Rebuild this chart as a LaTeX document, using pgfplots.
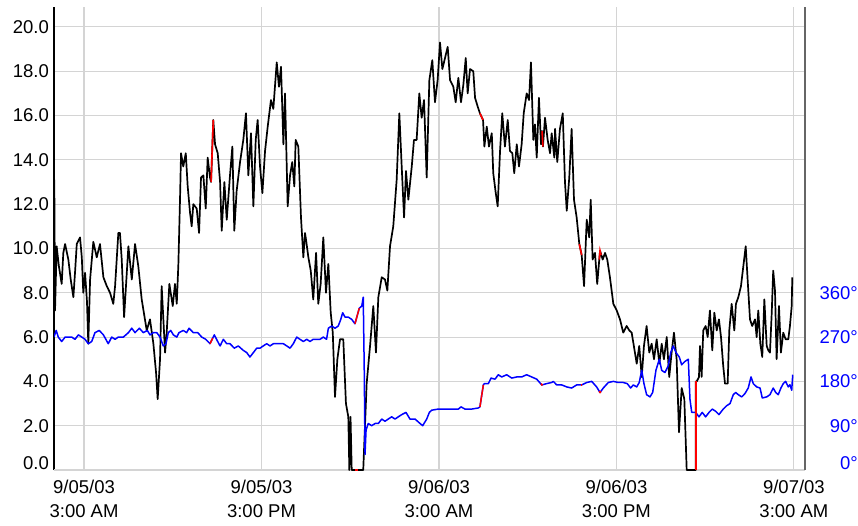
\documentclass[border=0pt]{standalone}
\usepackage{pgfplots}
\pgfplotsset{compat=1.18}
\usepackage{fontspec}
\setmainfont{Liberation Sans}
\begin{document}
\begin{tikzpicture}
\useasboundingbox (-54pt,-55pt) rectangle (804pt,470pt);
\begin{axis}[
  at={(0,0)}, anchor=south west,
  scale only axis, width=751pt, height=463pt,
  xmin=0.97, xmax=51.75, ymin=0, ymax=20.9,
  axis x line*=bottom, axis y line*=left,
  axis line style={-, line width=1.7pt, black},
  major tick length=0pt,
  xtick={3,15,27,39,51},
  xticklabels={{9/05/03\\3:00 AM},{9/05/03\\3:00 PM},{9/06/03\\3:00 AM},{9/06/03\\3:00 PM},{9/07/03\\3:00 AM}},
  xticklabel style={align=center, font=\fontsize{18.5}{24}\selectfont, inner sep=0pt, yshift=-10pt},
  ytick={2,4,6,8,10,12,14,16,18,20},
  yticklabels={2.0,4.0,6.0,8.0,10.0,12.0,14.0,16.0,18.0,20.0},
  yticklabel style={font=\fontsize{18.5}{22}\selectfont, inner sep=0pt, xshift=-5pt},
  extra y ticks={0}, extra y tick labels={0.0},
  extra y tick style={yticklabel style={yshift=7pt}},
  grid=major, major grid style={black!17, line width=1.1pt},
]
% black series
\addplot[black, line width=1.7pt, line join=round] coordinates {
(0.97,6.7)(0.99,13.1)(1.04,7.2)(1.15,10.1)(1.30,9.2)(1.49,8.4)(1.60,9.8)(1.72,10.2)(1.94,9.5)(2.10,8.6)
(2.28,7.8)(2.40,9.0)(2.51,10.2)(2.73,10.5)(2.85,9.6)(2.95,8.0)(3.07,8.9)(3.20,7.6)(3.29,5.7)(3.41,8.6)
(3.63,10.3)(3.86,9.6)(4.08,10.2)(4.31,8.7)(4.54,8.3)(4.76,8.0)(4.98,7.5)(5.10,8.3)(5.32,10.7)(5.43,10.7)
(5.55,9.5)(5.71,6.9)(6.00,10.1)(6.23,8.6)(6.45,10.2)(6.67,9.2)(6.90,7.7)(7.24,6.3)(7.46,6.8)(7.69,5.7)
(7.87,4.4)(7.98,3.2)(8.14,5.0)(8.25,8.3)(8.48,5.3)(8.59,6.2)(8.77,8.4)(9.00,7.4)(9.15,8.4)(9.27,7.5)
(9.38,9.3)(9.49,12.2)(9.56,14.3)(9.71,13.7)(9.88,14.3)(10.01,12.8)(10.17,11.6)(10.28,11.0)(10.39,12.0)(10.62,11.8)
(10.78,10.7)(10.91,13.2)(11.07,13.3)(11.23,11.8)(11.36,14.1)(11.52,13.2)(11.59,13.0)(11.74,15.8)(11.86,14.7)(12.04,14.3)
(12.20,13.0)(12.31,10.8)(12.49,13.0)(12.65,11.3)(12.87,13.3)(13.03,14.6)(13.16,10.8)(13.32,12.6)(13.55,13.9)(13.77,14.9)
(13.95,16.1)(14.11,13.3)(14.29,15.2)(14.45,11.9)(14.61,14.9)(14.74,15.8)(14.90,13.7)(15.06,12.5)(15.24,14.4)(15.42,15.5)
(15.64,16.7)(15.80,16.3)(16.03,18.4)(16.18,17.3)(16.32,18.2)(16.48,14.7)(16.59,17.0)(16.77,11.9)(16.93,13.3)(17.08,13.9)
(17.22,12.8)(17.31,14.9)(17.49,14.6)(17.67,11.4)(17.83,9.6)(17.94,10.7)(18.01,10.4)(18.17,9.6)(18.33,9.0)(18.50,7.7)
(18.69,9.8)(18.84,7.5)(19.00,8.4)(19.18,10.5)(19.36,8.0)(19.52,9.3)(19.68,7.1)(19.82,6.2)(19.97,3.3)(20.13,5.0)
(20.31,5.9)(20.53,5.9)(20.71,3.0)(20.87,2.4)(20.94,0)(21.02,2.4)(21.10,0)(21.88,0)(22.11,3.9)(22.34,5.6)
(22.56,7.4)(22.74,5.3)(22.90,7.8)(23.13,8.7)(23.35,8.6)(23.51,8.1)(23.69,10.1)(23.91,11.0)(24.14,13.1)(24.32,16.1)
(24.48,13.7)(24.64,11.4)(24.77,13.5)(24.93,12.2)(25.16,13.7)(25.31,14.9)(25.49,14.9)(25.67,17.0)(25.83,15.9)(25.99,16.7)
(26.17,13.2)(26.35,17.6)(26.55,18.5)(26.73,16.6)(26.91,17.6)(27.07,19.3)(27.23,18.1)(27.41,18.6)(27.59,19.1)(27.75,17.6)
(27.97,17.3)(28.13,16.6)(28.31,17.7)(28.49,16.6)(28.65,17.4)(28.81,18.6)(28.94,17.0)(29.10,18.1)(29.32,18.0)(29.44,16.8)
(29.62,16.4)(29.77,16.1)(29.98,15.8)(30.07,14.6)(30.23,15.5)(30.38,14.6)(30.57,15.2)(30.67,13.4)(30.84,12.5)(30.97,11.9)
(31.13,14.4)(31.28,16.1)(31.46,14.6)(31.65,15.8)(31.80,14.4)(31.96,14.3)(32.09,13.4)(32.26,14.7)(32.41,13.7)(32.59,14.7)
(32.73,16.1)(32.93,17.0)(33.09,16.7)(33.22,18.4)(33.38,14.9)(33.49,15.6)(33.61,14.1)(33.76,16.8)(33.90,14.7)(33.97,15.3)
(34.03,14.6)(34.17,15.9)(34.35,14.9)(34.51,14.3)(34.62,15.2)(34.80,14.1)(34.85,15.4)(35.00,13.9)(35.18,15.4)(35.37,16.1)
(35.52,13.0)(35.64,11.7)(35.81,13.2)(35.97,15.4)(36.13,12.2)(36.31,11.4)(36.49,10.2)(36.65,9.7)(36.81,8.3)(36.99,11.3)
(37.16,10.5)(37.26,12.2)(37.39,9.5)(37.55,9.8)(37.70,8.4)(37.89,9.9)(38.07,9.5)(38.23,9.8)(38.38,9.5)(38.56,8.7)
(38.79,7.5)(39.02,7.2)(39.24,6.8)(39.46,6.2)(39.69,6.5)(39.87,6.3)(40.03,6.2)(40.25,5.3)(40.37,4.8)(40.54,5.6)
(40.71,4.2)(40.86,5.6)(41.04,6.5)(41.22,5.3)(41.38,5.7)(41.54,5.0)(41.72,5.9)(41.90,4.8)(42.06,5.7)(42.21,5.0)
(42.40,6.0)(42.57,4.2)(42.73,5.3)(42.89,6.2)(43.07,5.0)(43.23,1.7)(43.41,3.7)(43.59,3.2)(43.75,0)(44.36,0)
(44.36,4.0)(44.43,4.0)(44.58,4.2)(44.65,5.6)(44.76,4.2)(44.87,6.3)(45.03,6.5)(45.17,6.0)(45.32,7.2)(45.48,5.4)
(45.62,7.1)(45.78,6.3)(45.93,6.8)(46.07,6.0)(46.22,4.7)(46.34,3.9)(46.52,3.9)(46.63,6.3)(46.79,7.5)(46.97,6.3)
(47.08,7.5)(47.24,7.8)(47.42,8.3)(47.58,9.2)(47.74,10.1)(47.87,8.6)(48.03,6.8)(48.18,6.5)(48.37,6.8)(48.48,6.0)
(48.59,7.2)(48.73,5.7)(48.86,5.1)(49.00,7.7)(49.16,5.6)(49.27,5.4)(49.38,5.3)(49.50,7.1)(49.60,9.0)(49.72,8.1)
(49.83,5.0)(49.99,7.4)(50.12,5.3)(50.28,6.2)(50.44,5.9)(50.62,5.9)(50.73,6.5)(50.85,7.4)(50.89,8.7)
};
% blue series (direction / 45)
\addplot[blue, line width=1.5pt, line join=round] coordinates {
(0.97,6.0)(1.12,6.3)(1.26,6.0)(1.49,5.8)(1.72,6.0)(1.94,6.0)(2.17,6.0)(2.39,5.9)(2.62,6.1)(2.85,6.0)
(3.07,5.9)(3.29,5.7)(3.52,5.8)(3.74,6.2)(4.03,6.3)(4.31,6.1)(4.64,5.7)(4.87,6.0)(5.10,5.9)(5.32,6.0)
(5.66,6.0)(6.00,6.2)(6.23,6.4)(6.45,6.2)(6.74,6.4)(7.01,6.2)(7.28,6.3)(7.46,6.1)(7.69,6.2)(7.92,6.2)
(8.14,6.0)(8.36,5.6)(8.54,5.7)(8.70,6.2)(8.86,6.3)(9.04,6.1)(9.27,6.0)(9.42,6.2)(9.71,6.3)(9.94,6.2)
(10.10,6.4)(10.39,6.2)(10.69,6.2)(10.96,6.0)(11.23,5.9)(11.52,5.7)(11.59,5.8)(11.81,6.1)(12.04,5.8)(12.20,5.6)
(12.42,5.9)(12.65,5.7)(12.87,5.7)(13.16,5.5)(13.43,5.6)(13.77,5.4)(14.00,5.3)(14.22,5.1)(14.45,5.3)(14.68,5.5)
(14.90,5.5)(15.12,5.6)(15.35,5.7)(15.58,5.6)(15.80,5.7)(16.03,5.7)(16.25,5.7)(16.48,5.7)(16.71,5.6)(16.93,5.5)
(17.15,5.7)(17.38,6.0)(17.60,5.9)(17.83,5.8)(18.06,5.9)(18.28,5.8)(18.50,5.9)(18.73,5.9)(18.96,5.9)(19.18,6.0)
(19.40,5.9)(19.52,6.4)(19.75,6.5)(19.97,6.4)(20.19,6.5)(20.36,6.8)(20.49,7.1)(20.65,6.9)(20.87,6.9)(21.10,6.8)
(21.32,6.6)(21.61,7.3)(21.78,7.4)(21.88,7.8)(21.95,4.4)(22.00,0.7)(22.07,1.8)(22.22,2.1)(22.45,2.0)(22.68,2.1)
(22.90,2.1)(23.13,2.3)(23.35,2.2)(23.57,2.3)(23.80,2.4)(24.03,2.3)(24.25,2.4)(24.48,2.5)(24.77,2.6)(25.04,2.3)
(25.38,2.3)(25.72,2.1)(25.90,2.0)(26.17,2.3)(26.35,2.6)(26.51,2.7)(26.95,2.75)(27.41,2.75)(27.86,2.75)(28.31,2.75)
(28.49,2.85)(28.76,2.75)(29.21,2.75)(29.66,2.8)(29.77,2.85)(30.00,3.84)(30.07,3.9)(30.34,3.9)(30.52,4.15)(30.79,4.1)
(31.01,4.3)(31.24,4.2)(31.58,4.3)(31.92,4.15)(32.26,4.2)(32.59,4.2)(32.93,4.3)(33.27,4.2)(33.61,4.1)(33.95,3.84)
(34.28,3.9)(34.62,3.95)(34.73,4.0)(34.96,3.84)(35.30,3.84)(35.64,3.75)(35.97,3.7)(36.31,3.84)(36.65,3.84)(36.99,3.95)
(37.33,4.0)(37.66,3.75)(37.89,3.5)(38.11,3.7)(38.45,3.95)(38.79,4.0)(39.13,3.95)(39.46,3.95)(39.73,3.9)(39.96,3.7)
(40.14,3.84)(40.37,3.75)(40.54,3.95)(40.71,4.5)(40.86,3.9)(41.04,3.4)(41.27,3.3)(41.45,3.5)(41.67,4.5)(41.90,5.0)
(42.06,4.5)(42.28,4.4)(42.50,4.7)(42.67,5.3)(42.84,5.6)(43.03,5.3)(43.25,5.1)(43.41,4.75)(43.63,4.9)(43.86,5.0)
(43.97,3.2)(44.09,2.6)(44.36,2.6)(44.58,2.4)(44.80,2.6)(45.03,2.4)(45.26,2.6)(45.48,2.75)(45.71,2.65)(45.93,2.5)
(46.22,2.75)(46.45,2.9)(46.68,3.0)(46.90,3.4)(47.06,3.5)(47.24,3.4)(47.47,3.3)(47.69,3.45)(47.91,3.7)(48.10,4.2)
(48.25,3.9)(48.48,3.75)(48.71,3.7)(48.86,3.25)(49.16,3.3)(49.38,3.4)(49.60,3.7)(49.77,3.5)(49.94,3.4)(50.12,3.7)
(50.28,3.9)(50.44,4.0)(50.62,3.75)(50.73,3.85)(50.85,3.6)(50.92,4.3)
};
% red (interpolated) pieces
\addplot[red, line width=1.6pt] coordinates {(11.59,13.0)(11.74,15.8)};
\addplot[red, line width=1.6pt] coordinates {(29.77,16.1)(29.98,15.8)};
\addplot[red, line width=1.6pt] coordinates {(33.97,15.3)(34.03,14.6)};
\addplot[red, line width=1.6pt] coordinates {(36.49,10.2)(36.65,9.7)};
\addplot[red, line width=1.6pt] coordinates {(37.84,9.5)(37.89,9.9)(37.96,9.7)};
\addplot[red, line width=1.6pt] coordinates {(21.35,0)(21.55,0)};
\addplot[red, line width=1.6pt] coordinates {(44.36,0)(44.36,4.0)};
\addplot[red, line width=1.5pt] coordinates {(11.52,5.7)(11.59,5.8)(11.70,5.95)};
\addplot[red, line width=1.5pt] coordinates {(21.32,6.6)(21.61,7.3)};
\addplot[red, line width=1.5pt] coordinates {(29.77,2.85)(30.00,3.84)};
\addplot[red, line width=1.5pt] coordinates {(33.90,3.9)(33.95,3.84)(34.03,3.86)};
\addplot[red, line width=1.5pt] coordinates {(36.60,3.84)(36.70,3.84)};
\addplot[red, line width=1.5pt] coordinates {(37.82,3.55)(37.89,3.5)(37.96,3.55)};
\end{axis}
\begin{axis}[
  at={(0,0)}, anchor=south west,
  scale only axis, width=751pt, height=463pt,
  xmin=0.97, xmax=51.75, ymin=0, ymax=940.5,
  axis x line=none, axis y line*=right,
  axis line style={-, line width=1.7pt, black!60},
  major tick length=0pt,
  ytick={90,180,270,360},
  yticklabels={90°,180°,270°,360°},
  yticklabel style={anchor=east, xshift=53pt, inner sep=0pt, text=blue, font=\fontsize{18.5}{22}\selectfont},
  extra y ticks={0}, extra y tick labels={0°},
  extra y tick style={yticklabel style={yshift=7pt}},
]
\end{axis}
\end{tikzpicture}
\end{document}
